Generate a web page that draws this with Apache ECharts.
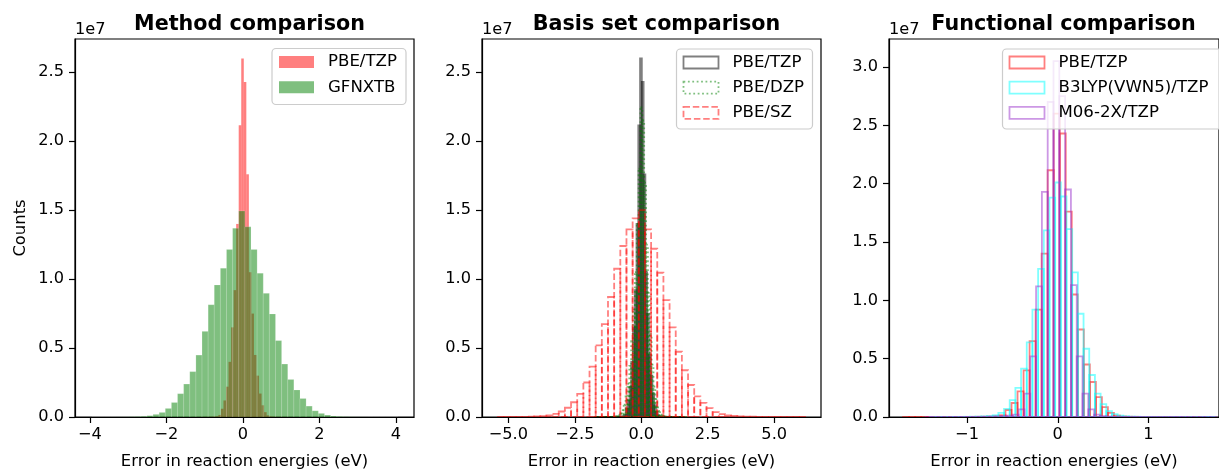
<!DOCTYPE html>
<html><head><meta charset="utf-8">
<script src="https://cdn.jsdelivr.net/npm/echarts@6/dist/echarts.min.js"></script>
<style>html,body{margin:0;padding:0;background:#fff}#c{width:1219px;height:475px}</style>
</head><body><div id="c"></div>
<script>
// ---------- text ----------
const panelTitles = ['Method comparison', 'Basis set comparison', 'Functional comparison'];
const xAxisTitle = 'Error in reaction energies (eV)';
const yAxisTitle = 'Counts';
const offsetText = '1e7';

// ---------- ticks ----------
const xTicks1 = [-4, -2, 0, 2, 4];
const xTickLabels1 = ['\u22124', '\u22122', '0', '2', '4'];
const xTicks2 = [-5, -2.5, 0, 2.5, 5];
const xTickLabels2 = ['\u22125.0', '\u22122.5', '0.0', '2.5', '5.0'];
const xTicks3 = [-1, 0, 1];
const xTickLabels3 = ['\u22121', '0', '1'];
const yTicks12 = [0, 0.5, 1.0, 1.5, 2.0, 2.5];
const yTicks3 = [0, 0.5, 1.0, 1.5, 2.0, 2.5, 3.0];

// ---------- histograms (counts in units of 1e7) ----------
// PBE/TZP : 50 bins
const tzpStart = -1.705, tzpWidth = 0.0664;
const tzpCounts = [0.0001,0.0001,0.0001,0.0001,0.0002,0.0002,0.0003,0.0004,0.0005,0.0007,
  0.0009,0.0012,0.0016,0.002,0.003,0.005,0.015,0.06,0.12,0.22,
  0.40,0.65,0.92,1.40,2.115,2.60,2.43,1.76,1.05,0.75,
  0.45,0.30,0.17,0.085,0.035,0.012,0.004,0.002,0.0015,0.001,
  0.0008,0.0006,0.0005,0.0004,0.0003,0.0002,0.0002,0.0001,0.0001,0.0001];
// GFNXTB : 50 bins
const gfnStart = -3.95, gfnWidth = 0.16;
const gfnCounts = [0.0001,0.0001,0.0002,0.0003,0.0005,0.0008,0.0015,0.003,0.005,0.0095,
  0.019,0.033,0.062,0.105,0.169,0.239,0.329,0.449,0.621,0.814,
  0.957,1.079,1.215,1.368,1.494,1.379,1.215,1.043,0.897,0.747,
  0.554,0.384,0.272,0.196,0.134,0.079,0.045,0.026,0.014,0.007,
  0.004,0.002,0.001,0.0006,0.0004,0.0002,0.0001,0.0001,0.0001,0.0001];
// PBE/DZP : 50 bins
const dzpStart = -1.78, dzpWidth = 0.07;
const dzpCounts = [0.0001,0.0001,0.0001,0.0002,0.0002,0.0003,0.0004,0.0006,0.0008,0.001,
  0.002,0.003,0.006,0.012,0.025,0.05,0.09,0.15,0.24,0.37,
  0.55,0.78,1.05,1.40,1.80,2.245,2.15,1.70,1.25,0.90,
  0.60,0.38,0.22,0.13,0.07,0.035,0.017,0.008,0.004,0.002,
  0.001,0.0008,0.0006,0.0004,0.0003,0.0002,0.0002,0.0001,0.0001,0.0001];
// PBE/SZ : 50 bins
const szStart = -5.42, szWidth = 0.2316;
const szCounts = [0.0001,0.0002,0.0003,0.0005,0.001,0.002,0.004,0.007,0.012,0.022,
  0.04,0.067,0.107,0.167,0.25,0.365,0.52,0.673,0.87,1.075,
  1.24,1.36,1.44,1.50,1.36,1.22,1.046,0.848,0.65,0.473,
  0.339,0.232,0.150,0.103,0.064,0.036,0.021,0.012,0.008,0.005,
  0.003,0.002,0.0015,0.001,0.0008,0.0006,0.0004,0.0003,0.0002,0.0001];
// B3LYP(VWN5)/TZP : 50 bins
const b3Start = -1.406, b3Width = 0.0626;
const b3Counts = [0.0001,0.0002,0.0003,0.0005,0.0008,0.001,0.0015,0.002,0.003,0.005,
  0.008,0.015,0.035,0.07,0.145,0.25,0.415,0.64,0.92,1.27,
  1.60,1.88,2.01,1.89,1.61,1.24,0.885,0.585,0.36,0.20,
  0.11,0.05,0.025,0.012,0.006,0.003,0.002,0.001,0.0008,0.0006,
  0.0004,0.0003,0.0002,0.0002,0.0001,0.0001,0.0001,0.0001,0.0001,0.0001];
// M06-2X/TZP : 50 bins
const m06Start = -1.455, m06Width = 0.064;
const m06Counts = [0.0001,0.0001,0.0002,0.0002,0.0003,0.0004,0.0006,0.0008,0.001,0.0015,
  0.002,0.003,0.005,0.008,0.012,0.02,0.065,0.2,0.52,1.12,
  1.93,2.70,3.05,2.75,1.95,1.13,0.52,0.2,0.065,0.02,
  0.008,0.004,0.002,0.001,0.0008,0.0006,0.0004,0.0003,0.0002,0.0002,
  0.0001,0.0001,0.0001,0.0001,0.0001,0.0001,0.0001,0.0001,0.0001,0.0001];

// ---------- helpers ----------
function bins(start, width, counts) {
  return counts.map((c, i) => [start + i * width, start + (i + 1) * width, c]);
}
const FONT = 'DejaVu Sans';
function renderFactory(style) {
  return function (params, api) {
    const p0 = api.coord([api.value(0), 0]);
    const p1 = api.coord([api.value(1), api.value(2)]);
    return {
      type: 'rect',
      shape: { x: p0[0], y: p1[1], width: p1[0] - p0[0], height: p0[1] - p1[1] },
      style: Object.assign({}, style)
    };
  };
}
function histSeries(name, idx, data, style, z) {
  return {
    type: 'custom', name: name, xAxisIndex: idx, yAxisIndex: idx,
    data: data, encode: { x: [0, 1], y: 2 }, clip: true, z: z,
    renderItem: renderFactory(style), silent: true, animation: false
  };
}
function labelFormatter(values, labels) {
  return function (v) {
    const i = values.findIndex(t => Math.abs(t - v) < 1e-9);
    return i >= 0 ? labels[i] : '';
  };
}

const GRID_TOP = 39, GRID_H = 383, GRID_W = 339;
const gridLefts = [75, 482, 889];
const xRanges = [[-4.39, 4.47], [-5.99, 6.76], [-1.86, 1.777]];
const yMax = [2.741, 2.741, 3.24];
const xTickSets = [[xTicks1, xTickLabels1], [xTicks2, xTickLabels2], [xTicks3, xTickLabels3]];
const yTickSets = [yTicks12, yTicks12, yTicks3];

const grids = gridLefts.map(l => ({
  left: l, top: GRID_TOP, width: GRID_W, height: GRID_H,
  show: true, borderColor: '#000', borderWidth: 1.2, backgroundColor: 'transparent', containLabel: false
}));
const xAxes = gridLefts.map((l, i) => ({
  type: 'value', gridIndex: i, min: xRanges[i][0], max: xRanges[i][1],
  splitLine: { show: false },
  axisLine: { show: true, onZero: false, lineStyle: { color: '#000', width: 1.2 } },
  axisTick: { show: true, length: 6, lineStyle: { color: '#000', width: 1.2 }, customValues: xTickSets[i][0] },
  axisLabel: { customValues: xTickSets[i][0], formatter: labelFormatter(xTickSets[i][0], xTickSets[i][1]),
    color: '#000', fontFamily: FONT, fontSize: 16.2, margin: 10 },
  name: xAxisTitle, nameLocation: 'middle', nameGap: 37,
  nameTextStyle: { color: '#000', fontFamily: FONT, fontSize: 16.4 }
}));
const yAxes = gridLefts.map((l, i) => ({
  type: 'value', gridIndex: i, min: 0, max: yMax[i],
  splitLine: { show: false },
  axisLine: { show: true, onZero: false, lineStyle: { color: '#000', width: 1.2 } },
  axisTick: { show: true, length: 6, lineStyle: { color: '#000', width: 1.2 }, customValues: yTickSets[i] },
  axisLabel: { customValues: yTickSets[i], formatter: v => v.toFixed(1),
    color: '#000', fontFamily: FONT, fontSize: 16.2, margin: 11 },
  name: i === 0 ? yAxisTitle : '', nameLocation: 'middle', nameGap: 46, nameRotate: 90,
  nameTextStyle: { color: '#000', fontFamily: FONT, fontSize: 16.4 }
}));

const C_RED = 'rgba(255,0,0,0.5)', C_GREEN = 'rgba(0,128,0,0.5)', C_GRAY = 'rgba(0,0,0,0.5)';
const C_CYAN = 'rgba(0,255,255,0.5)', C_PURPLE = 'rgba(153,50,204,0.5)';
const LW = 1.8;
const sFillRed = { fill: C_RED, stroke: null };
const sFillGreen = { fill: C_GREEN, stroke: 'rgba(255,255,255,0.25)', lineWidth: 0.6 };
const sGray = { fill: null, stroke: C_GRAY, lineWidth: LW };
const sDotGreen = { fill: null, stroke: C_GREEN, lineWidth: LW, lineDash: [1.8, 2.6] };
const sDashRed = { fill: null, stroke: C_RED, lineWidth: LW, lineDash: [6.5, 2.8] };
const sRed = { fill: null, stroke: C_RED, lineWidth: LW };
const sCyan = { fill: null, stroke: C_CYAN, lineWidth: LW };
const sPurple = { fill: null, stroke: C_PURPLE, lineWidth: LW };

const series = [
  histSeries('PBE/TZP', 0, bins(tzpStart, tzpWidth, tzpCounts), sFillRed, 2),
  histSeries('GFNXTB', 0, bins(gfnStart, gfnWidth, gfnCounts), sFillGreen, 3),
  histSeries('PBE/TZP', 1, bins(tzpStart, tzpWidth, tzpCounts), sGray, 2),
  histSeries('PBE/DZP', 1, bins(dzpStart, dzpWidth, dzpCounts), sDotGreen, 3),
  histSeries('PBE/SZ', 1, bins(szStart, szWidth, szCounts), sDashRed, 4),
  histSeries('PBE/TZP', 2, bins(tzpStart, tzpWidth, tzpCounts), sRed, 2),
  histSeries('B3LYP(VWN5)/TZP', 2, bins(b3Start, b3Width, b3Counts), sCyan, 3),
  histSeries('M06-2X/TZP', 2, bins(m06Start, m06Width, m06Counts), sPurple, 4)
];

// ---------- legends (graphic) ----------
function legendBox(x, y, w, h, items) {
  const els = [{
    type: 'rect', shape: { x: x, y: y, width: w, height: h, r: 4 },
    style: { fill: 'rgba(255,255,255,0.8)', stroke: '#cccccc', lineWidth: 1.2 }, z: 100
  }];
  items.forEach((it, k) => {
    const cy = y + 13.5 + k * 25.2;
    const st = Object.assign({}, it.style);
    els.push({ type: 'rect', shape: { x: x + 7, y: cy - 6, width: 35, height: 12 }, style: st, z: 101 });
    els.push({ type: 'text', x: x + 56, y: cy, style: { text: it.label, fill: '#000', font: '16.6px "DejaVu Sans"',
      textVerticalAlign: 'middle', verticalAlign: 'middle' }, z: 101 });
  });
  return els;
}
const graphics = [].concat(
  legendBox(272, 48.5, 134, 56, [
    { label: 'PBE/TZP', style: { fill: C_RED } },
    { label: 'GFNXTB', style: { fill: C_GREEN } }]),
  legendBox(676.5, 49, 136, 80, [
    { label: 'PBE/TZP', style: sGray },
    { label: 'PBE/DZP', style: sDotGreen },
    { label: 'PBE/SZ', style: sDashRed }]),
  legendBox(1002.5, 49, 222, 80, [
    { label: 'PBE/TZP', style: sRed },
    { label: 'B3LYP(VWN5)/TZP', style: sCyan },
    { label: 'M06-2X/TZP', style: sPurple }]),
  gridLefts.map(l => ({ type: 'text', x: l, y: 30, z: 50,
    style: { text: offsetText, fill: '#000', font: '16.2px "DejaVu Sans"', verticalAlign: 'middle', textVerticalAlign: 'middle' } }))
);

const titles = panelTitles.map((t, i) => ({
  text: t, left: gridLefts[i] + GRID_W / 2, top: 9, textAlign: 'center',
  textStyle: { fontFamily: FONT, fontSize: 20.7, fontWeight: 'bold', color: '#000' }
}));

const chart = echarts.init(document.getElementById('c'), null, { renderer: 'canvas' });
chart.setOption({
  animation: false, backgroundColor: '#fff',
  title: titles, grid: grids, xAxis: xAxes, yAxis: yAxes, series: series, graphic: graphics
});
</script></body></html>
